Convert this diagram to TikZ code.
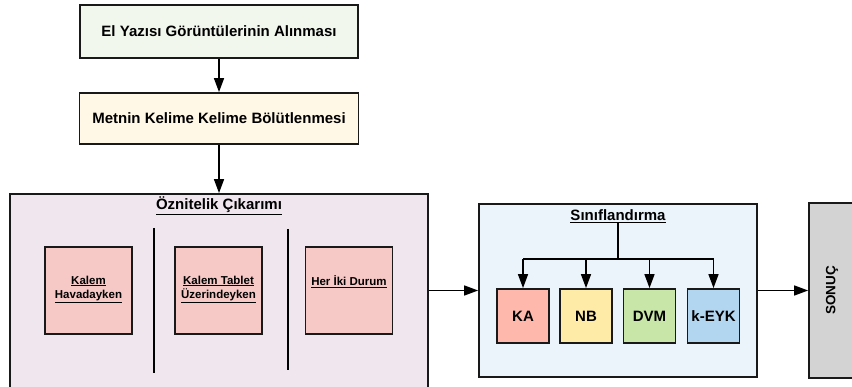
\documentclass[tikz,border=0pt]{standalone}
\usepackage{fontspec}
\setmainfont{Liberation Sans}
\usetikzlibrary{arrows.meta}
\definecolor{acikyesil}{HTML}{F1F7ED}
\definecolor{acikkrem}{HTML}{FFF8E7}
\definecolor{acikmor}{HTML}{F0E6EE}
\definecolor{acikpembe}{HTML}{F6C9C6}
\definecolor{acikmavi}{HTML}{EBF3FB}
\definecolor{kacolor}{HTML}{FFB8AC}
\definecolor{nbcolor}{HTML}{FFEBA8}
\definecolor{dvmcolor}{HTML}{C8E6A8}
\definecolor{eykcolor}{HTML}{B2D5F0}
\definecolor{sonuccolor}{HTML}{D3D3D3}
\newcommand{\ayirici}[3]{
    \draw[line width=1.8pt] (#1,#2) -- (#1,#3);
}
\tikzset{
    kutu/.style={draw=black!90, line width=1.8pt, inner sep=0pt, align=center,
        font=\bfseries\fontsize{15}{18}\selectfont},
    altkutu/.style={kutu, fill=acikpembe, minimum width=87pt, minimum height=87pt},
    altyazi/.style={align=center, inner sep=0pt, font=\bfseries\fontsize{11.5}{14}\selectfont},
    baslik/.style={inner sep=0pt, font=\bfseries\fontsize{15}{18}\selectfont},
    sinif/.style={kutu, minimum width=52pt, minimum height=54pt},
    ok/.style={line width=1.5pt, -{Triangle[length=14pt,width=10pt]}}
}

\begin{document}
\begin{tikzpicture}[x=1pt, y=-1pt]
        \useasboundingbox (0,0) rectangle (852,387);
        \clip (0,0) rectangle (852,387);
        % ust adimlar
        \node[kutu, fill=acikyesil, minimum width=278pt, minimum height=53pt] (goruntu) at (219,31.5) {El Yazısı Görüntülerinin Alınması};
        \node[kutu, fill=acikkrem, minimum width=279pt, minimum height=51pt] (bolut) at (219,118.5) {Metnin Kelime Kelime Bölütlenmesi};
        % oznitelik cikarimi
        \node[kutu, fill=acikmor, minimum width=418pt, minimum height=194pt] (oznitelik) at (219,291) {};
        \node[baslik] (ozbaslik) at (219,206) {\underline{Öznitelik Çıkarımı}};
        \ayirici{154}{228}{373}
        \ayirici{288}{229}{370}
        \node[altkutu] (hava) at (88.5,290.5) {};
        \node[altkutu] (tablet) at (218.5,290.5) {};
        \node[altkutu] (ikisi) at (349,290.5) {};
        \node[altyazi, anchor=north] at ([yshift=15pt]hava.center) {\underline{Kalem}\\\underline{Havadayken}};
        \node[altyazi, anchor=north] at ([yshift=15pt]tablet.center) {\underline{Kalem Tablet}\\\underline{Üzerindeyken}};
        \node[altyazi, anchor=north] at ([yshift=15pt]ikisi.center) {\underline{Her İki Durum}};
        % siniflandirma
        \node[kutu, fill=acikmavi, minimum width=278pt, minimum height=173pt] (siniflandirma) at (618,290.5) {};
        \node[baslik] (snbaslik) at (618,216) {\underline{Sınıflandırma}};
        \node[sinif, fill=kacolor] (ka) at (523,316) {KA};
        \node[sinif, fill=nbcolor] (nb) at (586,316) {NB};
        \node[sinif, fill=dvmcolor] (dvm) at (649.5,316) {DVM};
        \node[sinif, fill=eykcolor] (eyk) at (713.5,316) {k-EYK};
        \coordinate (dal) at (618,259);
        \draw[line width=1.5pt] (snbaslik.south) -- (dal);
        \draw[line width=1.5pt] (ka.north |- dal) -- (eyk.north |- dal);
        \foreach \s in {ka,nb,dvm,eyk}
            \draw[ok] (\s.north |- dal) -- (\s.north);
        % sonuc
        \node[kutu, fill=sonuccolor, minimum width=70pt, minimum height=175pt] (sonuc) at (844,290.5) {};
        \node[baslik, rotate=90, font=\bfseries\fontsize{13.5}{16}\selectfont] at (832,290.5) {SONUÇ};
        % baglantilar
        \draw[ok] (goruntu) -- (bolut);
        \draw[ok] (bolut) -- (oznitelik.north);
        \draw[ok] (oznitelik.east |- siniflandirma.west) -- (siniflandirma.west);
        \draw[ok] (siniflandirma.east) -- (sonuc.west);
    \end{tikzpicture}
\end{document}
